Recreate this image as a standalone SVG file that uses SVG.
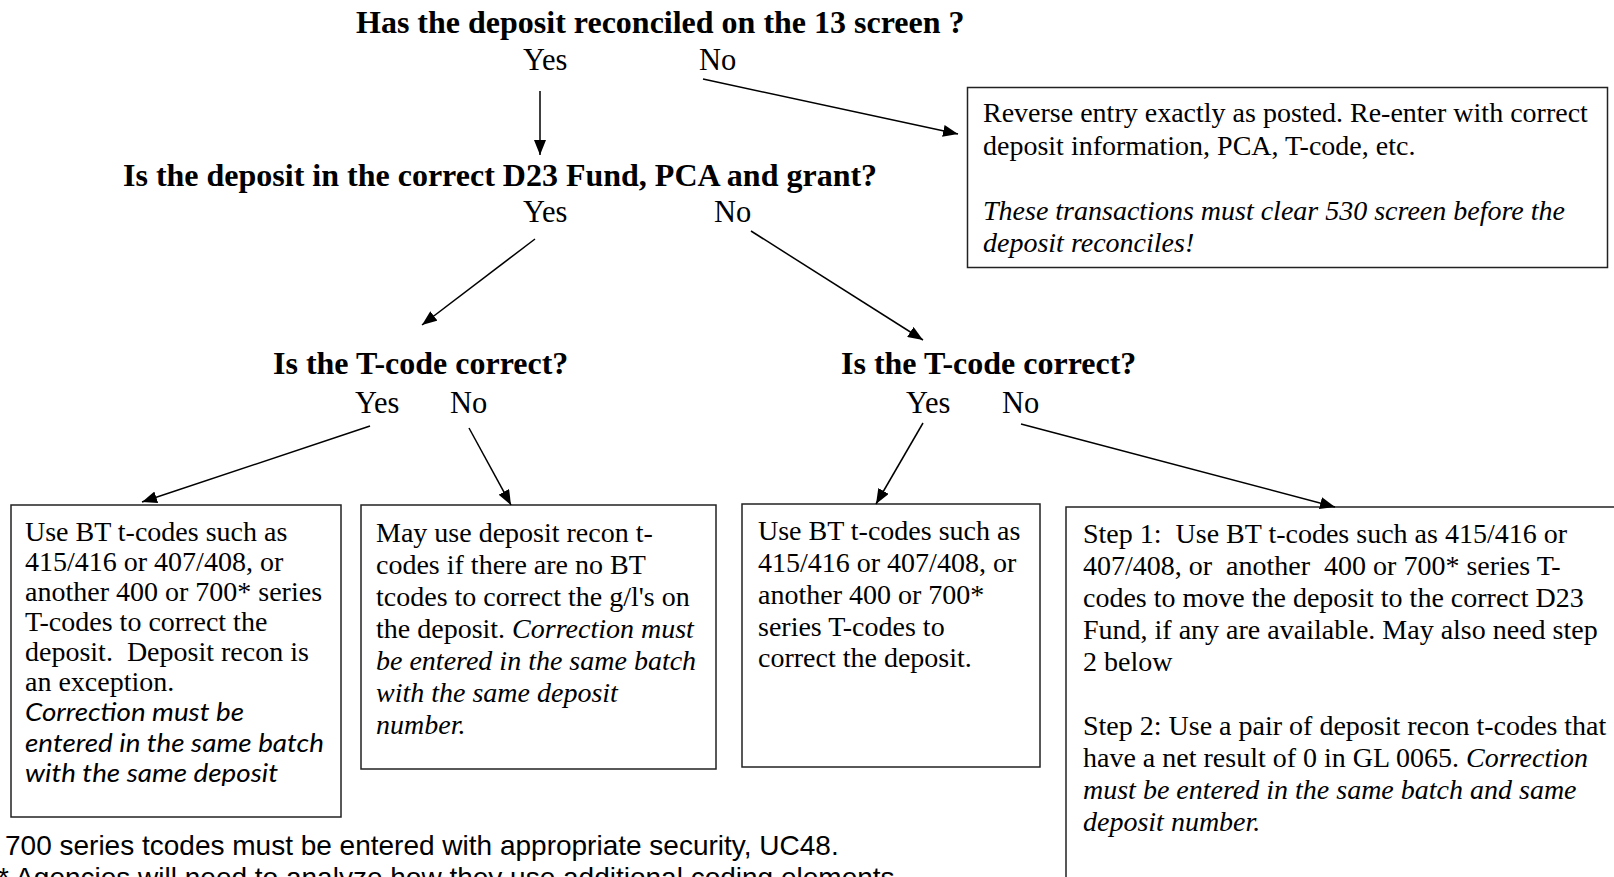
<svg xmlns="http://www.w3.org/2000/svg" width="1614" height="877" viewBox="0 0 1614 877">
<style>
text{white-space:pre}
.h{font-family:"Liberation Serif","Times New Roman",serif;font-weight:bold;font-size:32px;fill:#000}
.yn{font-family:"Liberation Serif","Times New Roman",serif;font-size:30.5px;fill:#000}
.t{font-family:"Liberation Serif","Times New Roman",serif;font-size:28px;fill:#000}
.i{font-style:italic}
.c{font-family:Lato,"Open Sans",sans-serif;font-style:italic;font-size:26px;fill:#000}
.f{font-family:"Liberation Sans",Arial,sans-serif;font-size:28px;fill:#000}
.box{fill:#fff;stroke:#222;stroke-width:1.5}
.ln{stroke:#000;stroke-width:1.5;fill:none;marker-end:url(#ah)}
</style>
<defs>
<marker id="ah" markerUnits="userSpaceOnUse" markerWidth="16" markerHeight="12" refX="15" refY="6" orient="auto">
<path d="M0,0 L15,6 L0,12 Z" fill="#000"/>
</marker>
</defs>
<rect width="1614" height="877" fill="#fff"/>
<g id="q1">
<text class="h" x="356" y="33">Has the deposit reconciled on the 13 screen ?</text>
<text class="yn" x="523" y="70">Yes</text>
<text class="yn" x="699" y="70">No</text>
</g>
<g id="q2">
<text class="h" x="123" y="186">Is the deposit in the correct D23 Fund, PCA and grant?</text>
<text class="yn" x="523" y="222">Yes</text>
<text class="yn" x="714" y="222">No</text>
</g>
<g id="q3a">
<text class="h" x="273" y="374">Is the T-code correct?</text>
<text class="yn" x="355" y="413">Yes</text>
<text class="yn" x="450" y="413">No</text>
</g>
<g id="q3b">
<text class="h" x="841" y="374">Is the T-code correct?</text>
<text class="yn" x="906" y="413">Yes</text>
<text class="yn" x="1002" y="413">No</text>
</g>
<g id="reverse">
<rect class="box" x="967.5" y="87.5" width="640" height="180"/>
<text class="t" x="983" y="122">Reverse entry exactly as posted. Re-enter with correct</text>
<text class="t" x="983" y="155">deposit information, PCA, T-code, etc.</text>
<text class="t i" x="983" y="220">These transactions must clear 530 screen before the</text>
<text class="t i" x="983" y="252">deposit reconciles!</text>
</g>
<g id="boxA">
<rect class="box" x="11" y="505" width="330" height="312"/>
<text class="t" x="25" y="541">Use BT t-codes such as</text>
<text class="t" x="25" y="571">415/416 or 407/408, or</text>
<text class="t" x="25" y="601">another 400 or 700* series</text>
<text class="t" x="25" y="631">T-codes to correct the</text>
<text class="t" x="25" y="661">deposit.  Deposit recon is</text>
<text class="t" x="25" y="691">an exception.</text>
<text class="c" x="25" y="721" textLength="219" lengthAdjust="spacingAndGlyphs">Correction must be</text>
<text class="c" x="25" y="752" textLength="299" lengthAdjust="spacingAndGlyphs">entered in the same batch</text>
<text class="c" x="25" y="782" textLength="253" lengthAdjust="spacingAndGlyphs">with the same deposit</text>
</g>
<g id="boxB">
<rect class="box" x="361" y="505" width="355" height="264"/>
<text class="t" x="376" y="542">May use deposit recon t-</text>
<text class="t" x="376" y="574">codes if there are no BT</text>
<text class="t" x="376" y="606">tcodes to correct the g/l's on</text>
<text class="t" x="376" y="638">the deposit. <tspan class="i">Correction must</tspan></text>
<text class="t i" x="376" y="670">be entered in the same batch</text>
<text class="t i" x="376" y="702">with the same deposit</text>
<text class="t i" x="376" y="734">number.</text>
</g>
<g id="boxC">
<rect class="box" x="742" y="504" width="298" height="263"/>
<text class="t" x="758" y="540">Use BT t-codes such as</text>
<text class="t" x="758" y="572">415/416 or 407/408, or</text>
<text class="t" x="758" y="604">another 400 or 700*</text>
<text class="t" x="758" y="636">series T-codes to</text>
<text class="t" x="758" y="667">correct the deposit.</text>
</g>
<g id="boxD">
<rect class="box" x="1066" y="507" width="600" height="420"/>
<text class="t" x="1083" y="543">Step 1:  Use BT t-codes such as 415/416 or</text>
<text class="t" x="1083" y="575">407/408, or  another  400 or 700* series T-</text>
<text class="t" x="1083" y="607">codes to move the deposit to the correct D23</text>
<text class="t" x="1083" y="639">Fund, if any are available. May also need step</text>
<text class="t" x="1083" y="671">2 below</text>
<text class="t" x="1083" y="735">Step 2: Use a pair of deposit recon t-codes that</text>
<text class="t" x="1083" y="767">have a net result of 0 in GL 0065. <tspan class="i">Correction</tspan></text>
<text class="t i" x="1083" y="799">must be entered in the same batch and same</text>
<text class="t i" x="1083" y="831">deposit number.</text>
</g>
<g id="footnote">
<text class="f" x="5" y="855">700 series tcodes must be entered with appropriate security, UC48.</text>
<text class="f" x="-2" y="887">* Agencies will need to analyze how they use additional coding elements</text>
</g>
<g id="connectors">
<line class="ln" x1="540" y1="91" x2="540" y2="155"/>
<line class="ln" x1="703" y1="79" x2="958" y2="134"/>
<line class="ln" x1="535" y1="239" x2="422" y2="325"/>
<line class="ln" x1="751" y1="231" x2="923" y2="340"/>
<line class="ln" x1="370" y1="426" x2="142" y2="502"/>
<line class="ln" x1="469" y1="428" x2="511" y2="505"/>
<line class="ln" x1="923" y1="423" x2="876" y2="504"/>
<line class="ln" x1="1021" y1="424" x2="1335" y2="507"/>
</g>
</svg>
